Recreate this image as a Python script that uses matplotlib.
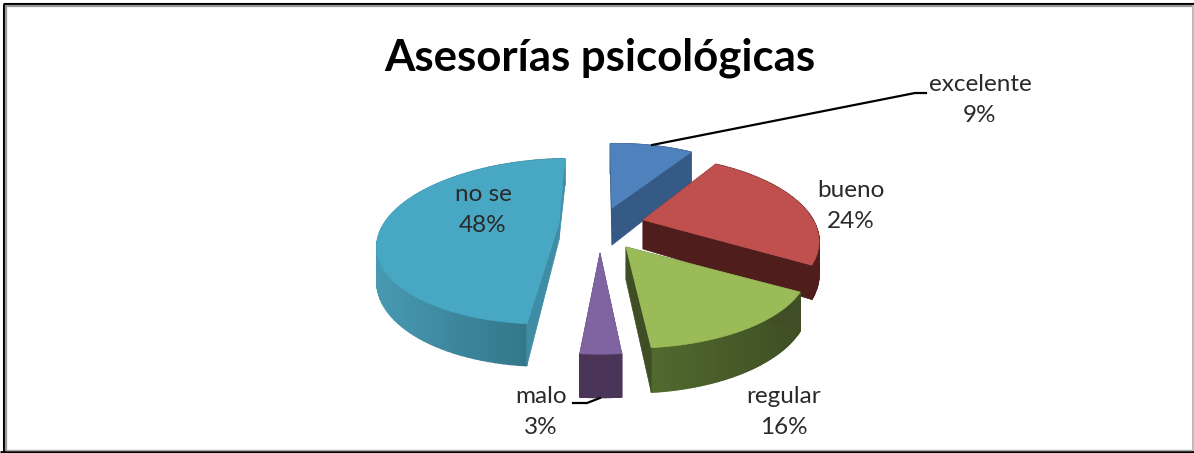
import numpy as np
import matplotlib
matplotlib.use("Agg")
import matplotlib.pyplot as plt
from matplotlib.colors import to_rgb

categories = ["excelente", "bueno", "regular", "malo", "no se"]
values = [9, 24, 16, 3, 48]
title = "Asesorías psicológicas"

top_colors = ["#4F81BD", "#C0504D", "#9BBB59", "#8064A2", "#48A8C4"]
wall_colors = ["#355A85", "#4F1E1C", "#3F4E24", "#4A3558", "#3F8CA5"]
rim_left = ["#355A85", "#4F1E1C", "#516A2E", "#4A3558", "#479AB2"]
rim_right = ["#355A85", "#4F1E1C", "#3F4E24", "#4A3558", "#2F6E80"]

# where each exploded slice has its point, in pixels
apex_x = [612, 643, 626, 600, 559]
apex_y = [208, 220, 247, 253, 223]
depth = [37, 31, 35, 34, 33]
apex_depth = [37, 29, 33, 34, 17]
radius_x = [170, 173, 180, 190, 178]
skew = [5, 0, 0, 0, 6]
# which side wall faces the viewer
front_wall = ["end", "end", "end", "end", "start"]
draw_order = [0, 1, 4, 2, 3]

label_x = [980, 851, 784, 541, 483]
label_y = [100, 206, 412, 412, 210]

# perspective of the disc
RY = 80
SHIFT_Y = 6
PERSP = 0.15
ROT = -2
CENTER_X = 600


def project(theta, ax_x, ax_y, rx, sk):
    t = np.radians(theta + ROT)
    u = np.sin(t)
    v = np.cos(t)
    w = 1 + PERSP * v
    x = ax_x + rx * u / w + (ax_x - CENTER_X) * (1 / w - 1) + sk * v
    y = ax_y + (SHIFT_Y - RY * v) / w
    return x, y, w


def mix(c1, c2, f):
    a = np.array(to_rgb(c1))
    b = np.array(to_rgb(c2))
    return tuple(a + (b - a) * f)


fig = plt.figure(figsize=(11.94, 4.53), dpi=100)
ax = fig.add_axes([0, 0, 1, 1])
ax.set_xlim(0, 1194)
ax.set_ylim(453, 0)
ax.axis("off")

plt.rcParams["font.family"] = ["Lato", "DejaVu Sans"]

# frame of the screenshot
ax.plot([3.5, 3.5], [453, 3.5], color="black", lw=2.2, solid_capstyle="butt")
ax.plot([3, 1194], [3.5, 3.5], color="black", lw=2.2, solid_capstyle="butt")
ax.plot([6, 6], [453, 6], color="#999999", lw=1.6, solid_capstyle="butt")
ax.plot([5, 1194], [6, 6], color="#999999", lw=1.6, solid_capstyle="butt")
ax.plot([0, 1194], [452, 452], color="black", lw=2, solid_capstyle="butt")
ax.plot([6, 1192], [450.2, 450.2], color="#aaaaaa", lw=1, solid_capstyle="butt")
ax.plot([1193, 1193], [5, 451], color="#bbbbbb", lw=1.4, solid_capstyle="butt")

ends = np.cumsum(values) / np.sum(values) * 360
starts = ends - np.array(values) / np.sum(values) * 360

for i in draw_order:
    theta = np.linspace(starts[i], ends[i], 80)
    ax_x, ax_y = apex_x[i], apex_y[i]
    x, y, w = project(theta, ax_x, ax_y, radius_x[i], skew[i])
    d = depth[i] / w ** 1.5

    # outer rim, in small strips for the shading
    span = max(x.max() - x.min(), 1)
    for k in range(len(theta) - 1):
        f = (x[k] - x.min()) / span
        col = mix(rim_left[i], rim_right[i], f)
        xs = [x[k], x[k + 1], x[k + 1], x[k]]
        ys = [y[k], y[k + 1], y[k + 1] + d[k + 1], y[k] + d[k]]
        ax.fill(xs, ys, color=col, lw=1)

    # side walls, the one facing us last
    sides = [("start", 0), ("end", -1)]
    if front_wall[i] == "start":
        sides = sides[::-1]
    for name, idx in sides:
        xs = [ax_x, x[idx], x[idx], ax_x]
        ys = [ax_y, y[idx], y[idx] + d[idx], ax_y + apex_depth[i]]
        ax.fill(xs, ys, color=wall_colors[i], lw=0.5)

    ax.fill(np.r_[ax_x, x], np.r_[ax_y, y], color=top_colors[i], lw=0.5)

# leader lines
ax.plot([652, 915, 926], [145, 93, 93], color="black", lw=1.6)
ax.plot([573, 587, 600], [403, 403, 398], color="black", lw=1.6)

ax.text(600, 58, title, ha="center", va="center", fontsize=31.5,
        fontweight="bold", color="black")

for name, val, lx, ly in zip(categories, values, label_x, label_y):
    ax.text(lx, ly, f"{name}\n{val}%", ha="center", va="center", fontsize=17.5,
            color="#2a2a2a", linespacing=1.6)

fig.savefig("out.png", dpi=100)
